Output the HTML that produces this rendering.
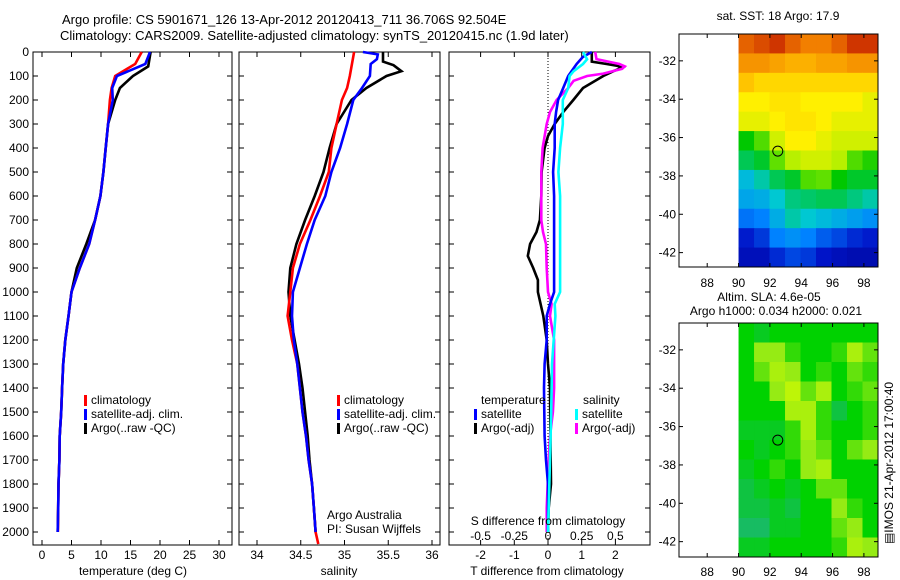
<!DOCTYPE html>
<html><head><meta charset="utf-8">
<style>
html,body{margin:0;padding:0;background:#fff;}
svg{display:block;font-family:"Liberation Sans",sans-serif;font-size:12px;}
</style></head>
<body>
<svg id="fig" width="900" height="580" viewBox="0 0 900 580" xmlns="http://www.w3.org/2000/svg">
<text x="62" y="24" font-size="13">Argo profile: CS 5901671_126 13-Apr-2012 20120413_711 36.706S 92.504E</text>
<text x="60" y="40" font-size="13">Climatology: CARS2009. Satellite-adjusted climatology: synTS_20120415.nc (1.9d later)</text>
<g id="g"></g>
</svg>
<script>
// ---------- data ----------
const depthT=[0,50,100,150,200,300,400,500,600,700,800,900,1000,1100,1200,1300,1400,1500,1600,1700,1800,1900,2000];
const tempClim=[16.9,15.8,12.4,11.8,11.5,11.2,10.8,10.4,9.9,9.0,8.0,6.4,5.0,4.5,3.95,3.6,3.4,3.25,3.0,2.95,2.8,2.75,2.7];
const tempSat=[18.3,17.5,12.7,11.9,12.0,11.2,10.8,10.4,9.9,9.0,8.0,6.4,5.0,4.5,3.95,3.6,3.4,3.25,3.0,2.95,2.8,2.75,2.66];
const depthTA=[0,60,100,150,200,300,400,500,600,700,800,900,1000,1100,1200,1300,1400,1500,1600,1700,1800,1900,2000];
const tempArgo=[18.4,18.0,15.4,13.2,12.4,11.2,10.8,10.4,9.9,9.0,7.5,5.9,5.0,4.5,3.95,3.6,3.4,3.25,3.0,2.95,2.8,2.75,2.66];

const depthS=[0,100,150,200,300,400,500,600,700,800,900,1000,1100,1200,1300,1400,1500,1600,1700,1800,1900,2000,2050];
const salClim=[35.11,35.06,35.03,34.97,34.91,34.85,34.82,34.72,34.61,34.49,34.41,34.38,34.35,34.40,34.46,34.49,34.52,34.56,34.59,34.63,34.65,34.67,34.70];
const depthSS=[0,10,30,50,100,150,200,300,400,500,600,700,800,900,1000,1100,1200,1300,1400,1500,1600,1700,1800,1900,2000];
const salSat=[35.21,35.38,35.37,35.30,35.29,35.20,35.10,35.03,34.95,34.85,34.78,34.66,34.57,34.49,34.41,34.40,34.42,34.46,34.49,34.52,34.56,34.59,34.63,34.65,34.67];
const depthSA=[0,20,40,55,80,100,150,200,300,400,500,600,700,800,900,1000,1100,1200,1300,1400,1500,1600,1700,1800,1900,2000];
const salArgo=[35.44,35.44,35.44,35.56,35.65,35.48,35.25,35.08,34.91,34.83,34.76,34.66,34.55,34.45,34.38,34.36,34.38,34.43,34.48,34.52,34.55,34.58,34.60,34.63,34.65,34.67];

const depthDT=[0,40,50,57,65,80,100,150,200,250,300,350,400,500,600,700,750,800,850,900,950,1000,1050,1100,1200,1300,1400,1600,1800,1900,2000];
const dTArgo=[1.3,1.3,1.74,2.04,2.2,1.94,1.64,1.04,0.75,0.45,0.2,0.0,-0.1,-0.19,-0.2,-0.24,-0.34,-0.53,-0.6,-0.44,-0.3,-0.3,-0.22,-0.14,-0.04,0.0,0.06,0.07,0.09,0.02,0.0];
const depthDTS=[0,20,50,100,150,200,250,300,400,500,600,800,1000,1050,1100,1200,1300,1400,1500,1600,1700,1800,2000];
const dTSat=[1.3,1.04,0.85,0.6,0.45,0.3,0.24,0.2,0.2,0.15,0.18,0.18,0.18,0.06,-0.04,-0.04,-0.1,-0.12,-0.11,-0.1,-0.06,0.0,0.0];
const depthDS=[0,30,50,60,70,90,100,120,150,200,250,300,400,500,700,750,800,900,1000,1050,1100,1200,1300,1400,1500,1600,1700,1900,2000];
const dSArgo=[0.35,0.36,0.53,0.57,0.55,0.41,0.29,0.19,0.15,0.064,0.015,-0.01,-0.04,-0.05,-0.05,-0.037,-0.015,-0.01,0.0,0.027,0.015,0.045,0.045,0.045,0.036,0.015,0.005,-0.01,-0.01];
const depthDSS=[0,30,50,80,100,150,200,300,400,500,600,1000,1050,1100,1300,1500,1700,1900,2000];
const dSSat=[0.26,0.29,0.26,0.19,0.16,0.15,0.11,0.11,0.09,0.077,0.09,0.09,0.05,0.055,0.03,0.024,0.015,0.005,0.0];

const depthTicks=[0,100,200,300,400,500,600,700,800,900,1000,1100,1200,1300,1400,1500,1600,1700,1800,1900,2000];
const tempTicks=[0,5,10,15,20,25,30];
const salTicks=[34,34.5,35,35.5,36];
const dTTicks=[-2,-1,0,1,2];
const dSTicks=[-0.5,-0.25,0,0.25,0.5];
const dSTickLabels=["-0.5","-0.25","0","0.25","0.5"];

const lonTicks=[88,90,92,94,96,98];
const latTicks=[-32,-34,-36,-38,-40,-42];
const argoLon=92.504, argoLat=-36.706;
const sstGrid=[
[0.88,0.90,0.92,0.88,0.85,0.85,0.88,0.92,0.92],
[0.82,0.82,0.80,0.78,0.78,0.80,0.80,0.82,0.82],
[0.75,0.72,0.72,0.72,0.72,0.72,0.72,0.72,0.72],
[0.68,0.68,0.70,0.70,0.68,0.68,0.68,0.68,0.66],
[0.66,0.66,0.68,0.70,0.70,0.68,0.66,0.66,0.66],
[0.50,0.55,0.64,0.68,0.68,0.66,0.64,0.64,0.64],
[0.46,0.48,0.56,0.62,0.64,0.64,0.62,0.55,0.52],
[0.38,0.42,0.46,0.48,0.55,0.56,0.50,0.48,0.48],
[0.35,0.36,0.40,0.44,0.45,0.46,0.46,0.44,0.42],
[0.28,0.30,0.36,0.42,0.40,0.38,0.36,0.34,0.32],
[0.16,0.20,0.30,0.32,0.30,0.25,0.22,0.18,0.16],
[0.12,0.12,0.18,0.22,0.20,0.15,0.12,0.10,0.10]];
const slaGrid=[
[.4,.3,.4,.4,.4,.4,.4,.4,.4],
[.4,.7,.7,.5,.4,.4,.5,.8,.6],
[.4,.6,.8,.7,.4,.5,.4,.6,.5],
[.4,.4,.7,.9,.6,.8,.4,.5,.6],
[.4,.4,.4,.8,.8,.5,.2,.4,.5],
[.3,.3,.3,.5,.8,.5,.4,.4,.5],
[.4,.3,.4,.5,.7,.6,.4,.6,.7],
[.3,.4,.5,.4,.7,.8,.4,.4,.4],
[.2,.3,.4,.3,.4,.6,.6,.4,.4],
[.2,.2,.3,.2,.4,.4,.7,.5,.4],
[.1,.1,.3,.3,.4,.4,.6,.7,.4],
[.3,.3,.4,.4,.4,.4,.5,.8,.7]];

// ---------- helpers ----------
const NS="http://www.w3.org/2000/svg";
const G=document.getElementById('g');
function mk(tag,attrs,parent){const e=document.createElementNS(NS,tag);for(const k in attrs)e.setAttribute(k,attrs[k]);(parent||G).appendChild(e);return e;}
function txt(x,y,s,anchor,size){const e=mk('text',{x:x,y:y,'text-anchor':anchor||'start','font-size':size||12});e.textContent=s;return e;}

const TOP=52,BOT=545;
const yD=d=>TOP+d*0.24;
const xT=v=>42+v*5.9;
const xS=v=>257+(v-34)*87.5;
const xDT=v=>548+v*33.7;
const xDS=v=>548+v*134.8;
const P=[{l:33,r:232},{l:239,r:440},{l:449,r:650}];

function frame(p,name){
  const r=mk('rect',{x:p.l,y:TOP,width:p.r-p.l,height:BOT-TOP,fill:'none',stroke:'#000','stroke-width':1});
  
  
  depthTicks.forEach(d=>{
    const y=yD(d);
    mk('line',{x1:p.l,x2:p.l+5,y1:y,y2:y,stroke:'#000'});
    mk('line',{x1:p.r-5,x2:p.r,y1:y,y2:y,stroke:'#000'});
  });
}
function xticks(vals,fx,labels,ly,name){
  vals.forEach((v,i)=>{
    const x=fx(v);
    mk('line',{x1:x,x2:x,y1:TOP,y2:TOP+5,stroke:'#000'});
    mk('line',{x1:x,x2:x,y1:BOT-5,y2:BOT,stroke:'#000'});
    if(labels){const t=txt(x,ly,labels[i],'middle');
      
      }
  });
}
function series(ds,vs,fx,color,name){
  const pts=ds.map((d,i)=>fx(vs[i]).toFixed(1)+','+yD(d).toFixed(1)).join(' ');
  const pl=mk('polyline',{points:pts,fill:'none',stroke:color,'stroke-width':2.6,'stroke-linejoin':'miter'});
  
  
}
function legend(x,y,color,label,name){
  mk('rect',{x:x,y:y-9,width:3,height:11,fill:color});
  const t=txt(x+7,y,label);
  
  
}

// ---------- panel 1: temperature ----------
frame(P[0],'temperature-panel');
depthTicks.forEach(d=>{const t=txt(29,yD(d)+4,String(d),'end');
  
  });
xticks(tempTicks,xT,tempTicks.map(String),559,'temperature-tick-label');
series(depthTA,tempArgo,xT,'#000','temperature-argo-line');
series(depthT,tempClim,xT,'#f00','temperature-climatology-line');
series(depthT,tempSat,xT,'#00f','temperature-satellite-line');
let t1=txt(133,575,'temperature (deg C)','middle');


legend(84,404,'#f00','climatology','legend-climatology');
legend(84,418,'#00f','satellite-adj. clim.','legend-satellite');
legend(84,432,'#000','Argo(..raw -QC)','legend-argo');

// ---------- panel 2: salinity ----------
frame(P[1],'salinity-panel');
xticks(salTicks,xS,salTicks.map(String),559,'salinity-tick-label');
series(depthSA,salArgo,xS,'#000','salinity-argo-line');
series(depthS,salClim,xS,'#f00','salinity-climatology-line');
series(depthSS,salSat,xS,'#00f','salinity-satellite-line');
let t2=txt(339,575,'salinity','middle');


legend(337,404,'#f00','climatology','legend-climatology-2');
legend(337,418,'#00f','satellite-adj. clim.','legend-satellite-2');
legend(337,432,'#000','Argo(..raw -QC)','legend-argo-2');
let a1=txt(327,519,'Argo Australia');
let a2=txt(327,533,'PI: Susan Wijffels');

// ---------- panel 3: differences ----------
frame(P[2],'difference-panel');
xticks(dTTicks,xDT,null,0,'');
mk('line',{x1:xDT(0),x2:xDT(0),y1:TOP,y2:BOT,stroke:'#000','stroke-dasharray':'1,2','stroke-width':1});
dTTicks.forEach(v=>{const t=txt(xDT(v),559,String(v),'middle');
  
  });
dSTicks.forEach((v,i)=>{const t=txt(xDS(v),540,dSTickLabels[i],'middle');
  
  });
series(depthDT,dTArgo,xDT,'#000','t-diff-argo-line');
series(depthDS,dSArgo,xDS,'#f0f','s-diff-argo-line');
series(depthDTS,dTSat,xDT,'#00f','t-diff-satellite-line');
series(depthDSS,dSSat,xDS,'#0ff','s-diff-satellite-line');
let t3=txt(547,575,'T difference from climatology','middle');


let t4=txt(548,525,'S difference from climatology','middle');


let l1=txt(481,404,'temperature');
let l2=txt(583,404,'salinity');
legend(474,418,'#00f','satellite','legend-t-satellite');
legend(474,432,'#000','Argo(-adj)','legend-t-argo');
legend(575,418,'#0ff','satellite','legend-s-satellite');
legend(575,432,'#f0f','Argo(-adj)','legend-s-argo');

// ---------- maps ----------
function lerpC(stops,v){
  v=Math.max(0,Math.min(1,v));
  for(let i=0;i<stops.length-1;i++){const a=stops[i],b=stops[i+1];
    if(v<=b[0]){const f=(v-a[0])/(b[0]-a[0]);
      const c=[0,1,2].map(k=>Math.round(a[1][k]+(b[1][k]-a[1][k])*f));
      return 'rgb('+c.join(',')+')';}}
  const l=stops[stops.length-1][1];return 'rgb('+l.join(',')+')';
}
const sstStops=[[0,[0,0,130]],[0.15,[0,20,200]],[0.3,[0,130,255]],[0.4,[0,200,210]],[0.5,[0,200,0]],[0.6,[160,240,0]],[0.68,[255,240,0]],[0.76,[255,190,0]],[0.86,[240,120,0]],[0.95,[190,20,0]],[1,[160,0,0]]];
const slaStops=[[0,[30,180,130]],[0.4,[0,210,0]],[0.7,[150,235,20]],[1,[210,250,0]]];

function map(box,grid,stops,name,latTop,latBot,lblY){
  const lonL=86.2,lonR=98.9;
  const fx=v=>box.l+(v-lonL)/(lonR-lonL)*(box.r-box.l);
  const fy=v=>box.t+(latTop-v)/(latTop-latBot)*(box.b-box.t);
  const rows=grid.length,cols=grid[0].length;
  const x0=fx(90),ch=(box.b-box.t)/rows,cw=(box.r-x0)/cols;
  grid.forEach((row,ri)=>row.forEach((v,ci)=>{
    const c=mk('rect',{x:(x0+ci*cw).toFixed(2),y:(box.t+ri*ch).toFixed(2),width:(cw+0.5).toFixed(2),height:(ch+0.5).toFixed(2),fill:lerpC(stops,v)});
    
    
  }));
  const fr=mk('rect',{x:box.l,y:box.t,width:box.r-box.l,height:box.b-box.t,fill:'none',stroke:'#000'});
  
  
  lonTicks.forEach(v=>{const x=fx(v);
    mk('line',{x1:x,x2:x,y1:box.t,y2:box.t+4,stroke:'#000'});
    mk('line',{x1:x,x2:x,y1:box.b-4,y2:box.b,stroke:'#000'});
    const t=txt(x,lblY,String(v),'middle');
    
    });
  latTicks.forEach(v=>{const y=fy(v);
    mk('line',{x1:box.r-4,x2:box.r,y1:y,y2:y,stroke:'#000'});
    mk('line',{x1:box.l,x2:box.l+4,y1:y,y2:y,stroke:'#000'});
    const t=txt(box.l-3,y+4,String(v),'end');
    
    });
  const c=mk('circle',{cx:fx(argoLon),cy:fy(argoLat),r:5,fill:'none',stroke:'#000','stroke-width':1});
  
  
}
map({l:679,r:878,t:34,b:267},sstGrid,sstStops,'sst-map',-30.6,-42.75,287);
map({l:679,r:878,t:323,b:557},slaGrid,slaStops,'sla-map',-30.6,-42.8,576);
let m1=txt(778,20,'sat. SST: 18 Argo: 17.9','middle');
let m2=txt(769,301,'Altim. SLA: 4.6e-05','middle');
let m3=txt(776,315,'Argo h1000: 0.034 h2000: 0.021','middle');
let im=txt(0,0,'\u25A4IMOS 21-Apr-2012 17:00:40','middle');
im.setAttribute('transform','translate(893,463) rotate(-90)');


</script>
</body></html>
